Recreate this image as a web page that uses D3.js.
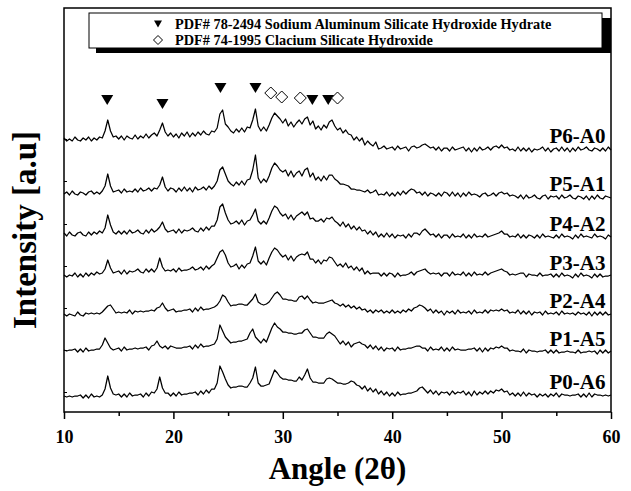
<!DOCTYPE html>
<html>
<head>
<meta charset="utf-8">
<script src="https://cdn.jsdelivr.net/npm/d3@7"></script>
<style>
  html, body { margin: 0; padding: 0; background: #fff; }
  svg { display: block; }
  text { font-family: "Liberation Serif", "Times New Roman", serif; font-weight: bold; fill: #000; }
</style>
</head>
<body>
<svg id="chart" width="631" height="491"></svg>
<script>
// ---- sampling grid (2θ) ----
const angleStart = 10;
const angleStep = 0.25;

// ---- sample names (top to bottom) ----
const sampleNames = ["P6-A0", "P5-A1", "P4-A2", "P3-A3", "P2-A4", "P1-A5", "P0-A6"];
// stacking offsets (arbitrary intensity units)
const sampleOffsets = [272, 218, 177, 136, 97, 61, 15];

// ---- intensities (a.u., relative to each trace's own base), 10°..60° every 0.25° ----
const p6a0 = [
  2,-1,1,-1,3,0,-1,2,0,3,-1,2,0,3,2,9,20,9,3,4,
  1,4,0,4,2,1,5,1,4,2,6,2,5,7,4,10,17,8,4,7,
  3,6,2,7,4,8,3,7,4,8,5,9,6,5,9,8,12,26,30,16,
  13,9,7,11,8,12,8,13,12,20,31,14,9,13,9,15,22,27,24,21,
  17,21,14,18,13,17,20,16,21,23,15,19,11,14,10,15,12,18,20,14,
  10,12,7,10,6,5,0,3,-1,2,-5,-1,-4,-6,-2,-9,-8,-6,-9,-8,
  -7,-10,-6,-9,-8,-7,-11,-7,-6,-8,-7,-5,-4,-6,-8,-7,-10,-7,-11,-8,
  -8,-11,-7,-10,-9,-8,-7,-11,-8,-12,-8,-11,-7,-10,-9,-7,-10,-7,-6,-8,
  -5,-8,-7,-10,-9,-11,-7,-11,-8,-11,-8,-12,-9,-10,-9,-7,-11,-8,-12,-9,
  -8,-11,-7,-11,-8,-12,-8,-11,-7,-10,-9,-7,-10,-11,-8,-9,-11,-8,-11,-7,
  -10
];
const p5a1 = [
  0,2,-1,3,0,-1,2,1,-1,2,3,0,2,0,3,8,20,8,2,3,
  4,1,5,2,3,2,5,2,6,3,4,6,3,6,5,9,17,7,3,6,
  5,2,6,3,7,3,6,2,7,4,5,7,4,8,5,8,13,24,27,20,
  13,10,8,12,9,13,9,14,15,24,39,16,11,15,12,18,26,31,28,24,
  22,24,18,23,17,21,23,18,24,26,17,21,14,17,13,18,14,19,19,15,
  13,10,10,9,8,5,5,4,4,3,2,4,1,2,4,-1,0,-1,2,-2,
  1,-2,2,-1,3,0,3,5,4,1,2,-1,2,-2,1,0,-2,1,-2,2,
  1,-2,2,-2,1,-3,1,-2,2,-1,0,-1,-3,0,1,-2,-1,1,-2,1,
  2,0,1,-2,-1,-2,-4,-1,-5,-1,-4,-3,-1,-4,-5,-2,-1,-5,-2,-3,
  -2,-5,-1,-4,-3,-1,-4,-5,-2,-3,-5,-2,-6,-2,-5,-1,-4,-5,-2,-3,
  -4
];
const p4a2 = [
  2,-1,3,0,-1,2,3,0,-1,3,0,3,1,4,2,7,20,10,3,1,
  4,1,4,1,5,2,3,5,2,1,5,2,6,3,5,8,13,6,3,4,
  5,2,6,2,5,4,5,7,4,3,7,4,8,5,9,9,15,28,31,22,
  15,11,12,14,11,15,10,14,15,20,26,14,11,14,11,17,24,29,27,22,
  19,21,16,20,15,19,21,23,20,23,16,17,14,14,16,13,17,16,18,14,
  12,9,13,8,11,6,9,5,8,4,5,1,4,0,3,-2,1,-2,2,-2,
  1,-3,0,-1,0,-3,1,-2,2,2,0,4,6,3,0,1,-2,1,-3,0,
  0,-3,1,-2,-1,-2,1,-3,0,-3,1,-2,-1,-2,1,-2,-1,0,1,2,
  4,1,1,-2,-1,-2,1,-3,0,-3,0,-1,-3,0,-3,1,-2,-1,-2,-3,
  0,-3,1,-2,-1,-2,-4,0,-3,1,-2,-1,-2,-3,1,-2,-1,-2,-4,0,
  -2
];
const p3a3 = [
  1,-1,1,0,3,-1,2,-1,3,0,3,1,4,2,3,7,16,8,3,4,
  5,2,6,2,5,4,5,7,4,3,7,4,7,4,8,18,9,5,6,5,
  7,4,8,5,6,6,7,9,6,7,9,6,10,7,10,12,18,24,26,21,
  13,9,10,12,7,11,8,12,13,20,29,15,12,15,11,18,24,28,26,22,
  19,21,16,20,15,19,21,22,21,24,17,17,13,16,12,16,15,19,18,14,
  10,12,9,13,8,10,6,9,5,8,2,5,2,3,3,3,0,3,0,3,
  2,-1,3,0,1,1,2,4,1,4,5,6,7,4,2,3,2,3,0,3,
  3,0,4,1,2,1,4,0,3,0,4,1,2,1,4,1,3,4,5,6,
  7,5,4,1,2,1,2,3,3,-1,2,1,1,0,3,0,1,1,2,-1,
  2,-1,3,0,1,0,-2,2,-1,3,0,1,0,-2,2,-1,2,-1,0,0,
  1
];
const p2a4 = [
  1,-1,1,0,-1,3,0,-1,2,1,2,1,2,1,3,6,9,10,6,2,
  3,2,3,2,5,1,4,3,4,3,4,4,5,4,7,8,12,7,4,5,
  6,3,4,4,5,5,6,3,7,4,8,5,6,6,7,8,10,14,20,18,
  13,9,10,10,11,11,10,10,13,16,21,13,11,10,11,13,17,21,23,20,
  16,16,15,15,14,14,18,19,16,19,15,12,13,12,12,12,13,14,15,12,
  11,9,11,8,10,7,9,6,8,5,6,3,5,2,5,3,5,2,4,2,
  5,2,4,2,5,3,6,4,7,8,10,9,7,4,6,2,5,2,4,0,
  4,2,4,1,5,2,3,2,4,1,5,2,3,2,5,2,5,4,5,4,
  6,4,5,2,3,2,5,1,4,1,4,0,3,2,3,0,4,1,2,1,
  3,0,4,1,2,1,2,0,3,1,2,0,3,-1,3,0,3,0,3,0,
  1
];
const p1a5 = [
  1,0,1,1,2,-1,2,-1,3,0,1,1,2,2,6,13,8,3,1,2,
  3,0,4,1,2,2,3,2,3,3,4,1,5,6,10,5,3,5,2,5,
  4,3,3,3,4,4,5,2,6,3,7,4,5,5,6,7,12,26,20,14,
  11,8,9,9,10,10,11,12,18,22,14,11,8,12,9,16,23,28,24,22,
  19,19,18,18,17,17,18,18,21,22,18,14,14,13,13,13,17,19,17,15,
  11,7,10,6,9,4,7,8,9,7,6,3,6,2,5,1,4,0,3,2,
  3,0,4,1,2,2,3,3,4,5,5,3,3,0,4,1,2,1,4,0,
  3,0,4,1,2,1,1,1,2,2,3,0,3,-1,3,0,3,2,4,3,
  5,3,3,0,1,0,0,-1,2,-2,1,0,0,-1,0,0,1,-2,1,-2,
  1,-2,-1,-1,0,-1,-1,-2,1,-2,-1,-1,0,-1,0,-3,1,-2,1,-2,
  0
];
const p0a6 = [
  1,0,1,0,1,1,2,-1,2,-1,3,0,1,0,2,8,21,9,3,2,
  3,0,3,0,4,1,2,2,3,0,4,1,5,4,8,20,9,4,4,1,
  4,1,5,2,3,3,4,4,5,2,6,3,7,4,8,8,14,31,25,18,
  12,9,10,10,11,11,10,10,14,19,30,14,11,11,12,13,20,27,24,20,
  18,18,17,17,16,16,20,17,22,28,19,15,15,14,14,14,18,19,18,16,
  14,14,13,13,14,16,15,12,11,8,11,6,9,5,8,3,6,2,5,1,
  4,1,5,2,3,3,4,4,5,6,9,10,7,4,7,3,6,2,5,4,
  5,2,6,3,5,4,6,2,5,1,6,2,5,3,6,3,6,4,7,6,
  8,5,6,2,4,1,4,1,5,1,4,2,3,0,3,1,3,0,3,1,
  4,0,3,2,2,1,2,2,3,0,3,0,4,0,3,2,2,1,2,1,
  2
];
const sampleSeries = [p6a0, p5a1, p4a2, p3a3, p2a4, p1a5, p0a6];

// ---- reference peak markers (2θ, marker level in a.u.) ----
const naAlSiAngles = [13.95, 19.0, 24.3, 27.5, 32.7, 34.15];
const naAlSiLevels = [312, 308, 324, 324, 312, 312];
const caSiAngles = [28.9, 29.9, 31.6, 35.0];
const caSiLevels = [319, 315, 314, 314];

// ---- axis ticks ----
const xMajorTicks = [10, 20, 30, 40, 50, 60];
const xMinorTicks = [15, 25, 35, 45, 55];
const yTicks = [20, 62, 104, 146, 188, 231, 273];

// ---- legend ----
const legendLabels = [
  "PDF# 78-2494 Sodium Aluminum Silicate Hydroxide Hydrate",
  "PDF# 74-1995 Clacium Silicate Hydroxide"
];

const xTitle = "Angle (2\u03B8)";
const yTitle = "Intensity [a.u]";

// ================= drawing =================
const svg = d3.select("#chart");
svg.append("rect").attr("width", 631).attr("height", 491).attr("fill", "#fff");

const plot = { left: 64, right: 611, top: 8, bottom: 412 };
const x = d3.scaleLinear().domain([10, 60]).range([plot.left, plot.right]);
const y = d3.scaleLinear().domain([0, 404]).range([plot.bottom, plot.top]);

const line = d3.line()
  .x((d, i) => x(angleStart + i * angleStep))
  .y(d => d);

sampleSeries.forEach((series, k) => {
  const pts = series.map(v => y(sampleOffsets[k] + v));
  svg.append("path")
    .attr("d", line(pts))
    .attr("fill", "none")
    .attr("stroke", "#000")
    .attr("stroke-width", 1.25)
    .attr("stroke-linejoin", "round");
  const tailLevel = d3.mean(series.slice(-20));
  svg.append("text")
    .attr("x", x(59.5))
    .attr("y", y(sampleOffsets[k] + tailLevel) - 6)
    .attr("text-anchor", "end")
    .attr("font-size", 21)
    .text(sampleNames[k]);
});

// frame
svg.append("rect")
  .attr("x", plot.left).attr("y", plot.top)
  .attr("width", plot.right - plot.left).attr("height", plot.bottom - plot.top)
  .attr("fill", "none").attr("stroke", "#000").attr("stroke-width", 1.5);

// x axis major
const xAxis = svg.append("g")
  .attr("transform", `translate(0,${plot.bottom})`)
  .call(d3.axisBottom(x).tickValues(xMajorTicks).tickSize(7).tickPadding(11).tickFormat(d3.format("d")));
xAxis.select(".domain").remove();
xAxis.selectAll("line").attr("stroke", "#000").attr("stroke-width", 1.5);
xAxis.selectAll("text").attr("font-size", 18).attr("font-family", null);

const xAxisMinor = svg.append("g")
  .attr("transform", `translate(0,${plot.bottom})`)
  .call(d3.axisBottom(x).tickValues(xMinorTicks).tickSize(4).tickFormat(""));
xAxisMinor.select(".domain").remove();
xAxisMinor.selectAll("line").attr("stroke", "#000").attr("stroke-width", 1.5);

// y axis small inner ticks
const yAxis = svg.append("g")
  .attr("transform", `translate(${plot.left},0)`)
  .call(d3.axisLeft(y).tickValues(yTicks).tickSize(-3).tickFormat(""));
yAxis.select(".domain").remove();
yAxis.selectAll("line").attr("stroke", "#000").attr("stroke-width", 1);

// titles
svg.append("text")
  .attr("x", (plot.left + plot.right) / 2)
  .attr("y", 479)
  .attr("text-anchor", "middle")
  .attr("font-size", 31)
  .text(xTitle);
svg.append("text")
  .attr("transform", `translate(36,${(plot.top + plot.bottom) / 2 + 20}) rotate(-90)`)
  .attr("text-anchor", "middle")
  .attr("font-size", 33)
  .text(yTitle);

// markers
const triSize = 12, triH = 10;
function triPath(cx, cy, w, h) {
  return `M${cx - w / 2},${cy - h / 2}L${cx + w / 2},${cy - h / 2}L${cx},${cy + h / 2}Z`;
}
function diaPath(cx, cy, r) {
  return `M${cx},${cy - r}L${cx + r},${cy}L${cx},${cy + r}L${cx - r},${cy}Z`;
}
naAlSiAngles.forEach((a, i) => {
  svg.append("path").attr("d", triPath(x(a), y(naAlSiLevels[i]), triSize, triH)).attr("fill", "#000");
});
caSiAngles.forEach((a, i) => {
  svg.append("path").attr("d", diaPath(x(a), y(caSiLevels[i]), 6)).attr("fill", "#fff").attr("stroke", "#000").attr("stroke-width", 1);
});

// legend
const lg = { x: 89, y: 13, w: 513, h: 35 };
svg.append("rect").attr("x", lg.x + 7).attr("y", lg.y + 5).attr("width", lg.w + 2).attr("height", lg.h).attr("fill", "#000");
svg.append("rect").attr("x", lg.x).attr("y", lg.y).attr("width", lg.w).attr("height", lg.h)
  .attr("fill", "#fff").attr("stroke", "#000").attr("stroke-width", 1);
svg.append("path").attr("d", triPath(158, 24, 8, 7)).attr("fill", "#000");
svg.append("path").attr("d", diaPath(158, 40, 4.5)).attr("fill", "#fff").attr("stroke", "#000").attr("stroke-width", 1);
legendLabels.forEach((t, i) => {
  svg.append("text").attr("x", 175).attr("y", 28.5 + i * 16).attr("font-size", 14.3).text(t);
});
</script>
</body>
</html>
